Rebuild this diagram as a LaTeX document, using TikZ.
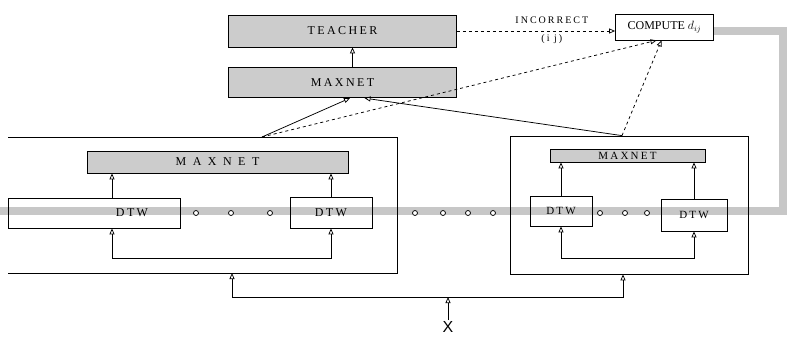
\documentclass[tikz,border=0pt]{standalone}
\usepackage{fontspec}
\setmainfont{Liberation Serif}
\setsansfont{Liberation Sans}
\newfontfamily\spaced[LetterSpace=20]{Liberation Serif}
\newfontfamily\widespaced[LetterSpace=54]{Liberation Serif}
\usetikzlibrary{positioning,arrows.meta,backgrounds}
\begin{document}
\begin{tikzpicture}[
  x=1pt, y=-1pt,
  node distance=20pt,
  line width=0.75pt,
  shaded/.style={draw, fill=black!20, inner sep=1pt, font=\spaced\fontsize{12}{14}\selectfont},
  plain/.style={draw, inner sep=1pt, font=\spaced\fontsize{12}{14}\selectfont},
  lbl/.style={inner sep=1pt, font=\spaced\fontsize{10}{12}\selectfont},
  dot/.style={circle, draw, fill=white, inner sep=0pt, minimum size=5pt},
  arrow/.style={-{Triangle[open,length=6pt,width=5pt]}},
  dasharrow/.style={arrow, dashed},
  band/.style={line width=8pt, draw=black!22}
]
\useasboundingbox (0,0) rectangle (788,337);

% top part
\node[shaded, minimum width=228pt, minimum height=32pt] (teacher) at (342.5,31) {TEACHER};
\node[shaded, minimum width=228pt, minimum height=30pt, below=20pt of teacher] (maxtop) {MAXNET};
\node[draw, inner sep=1pt, font=\fontsize{12}{14}\selectfont, minimum width=98pt, minimum height=26pt] (compute) at (664.5,27) {COMPUTE $d_{ij}$};

% left group
\draw (8,137) -| (397,273) -- (8,273);
\coordinate (lgtop) at (262,137);
\coordinate (lgbot) at (232,273);
\node[shaded, font=\widespaced\fontsize{12}{14}\selectfont, minimum width=261pt, minimum height=22pt] (lmax) at (217.5,162) {MAXNET};
\node[plain, minimum width=172pt, minimum height=30pt] (ldtwa) at (94,213) {\hspace*{76pt}DTW};
\node[plain, minimum width=82pt, minimum height=31pt] (ldtwb) at (331,212.5) {DTW};

% right group
\node[draw, minimum width=238pt, minimum height=138pt] (rgrp) at (629,205) {};
\node[shaded, font=\spaced\fontsize{11}{13}\selectfont, minimum width=155pt, minimum height=13pt] (rmax) at (627.5,155.5) {MAXNET};
\node[plain, font=\spaced\fontsize{11}{13}\selectfont, minimum width=62pt, minimum height=30pt] (rdtwa) at (561,211) {DTW};
\node[plain, font=\spaced\fontsize{11}{13}\selectfont, minimum width=66pt, minimum height=32pt] (rdtwb) at (694,215) {DTW};

% dots along the band
\foreach \x [count=\i] in {196,231,270,415,443,468,493,600,625,647}
  \node[dot] (dot\i) at (\x,213) {};

\node[font=\sffamily\fontsize{16}{18}\selectfont, inner sep=1pt] (xin) at (448,327) {X};

% band
\coordinate (bandR) at (783,211);
\coordinate (bandL) at (0,211);
\begin{scope}[on background layer]
\draw[band] ([yshift=-4pt]compute.east) -- ([yshift=-4pt]compute.east -| bandR) -- (bandR) -- (bandL);
\end{scope}

% connectors
\draw[arrow] ([xshift=10pt]maxtop.north) -- ([xshift=10pt]teacher.south);
\draw[dasharrow] (teacher.east) -- (teacher.east -| compute.west)
  node[lbl, pos=0.6, above=6pt] (incorrect) {INCORRECT}
  node[lbl, pos=0.6, below=2pt] (ij) {(i j)};
\draw[arrow] (lgtop) -- ([xshift=7.5pt]maxtop.south);
\draw[arrow] ([xshift=-7pt]rgrp.north) -- ([xshift=22pt]maxtop.south);
\draw[dasharrow] (lgtop) -- ([xshift=-8pt]compute.south);
\draw[dasharrow] ([xshift=-7pt]rgrp.north) -- ([xshift=-3pt]compute.south);

\draw[arrow] ([xshift=18pt]ldtwa.north) -- ([xshift=18pt]ldtwa.north |- lmax.south);
\draw[arrow] (ldtwb.north) -- (ldtwb.north |- lmax.south);
\coordinate (lin) at (222,258);
\draw[arrow] (lin) -| ([xshift=18pt]ldtwa.south);
\draw[arrow] (lin) -| (ldtwb.south);

\draw[arrow] (rdtwa.north) -- (rdtwa.north |- rmax.south);
\draw[arrow] (rdtwb.north) -- (rdtwb.north |- rmax.south);
\coordinate (rin) at (628,258);
\draw[arrow] (rin) -| (rdtwa.south);
\draw[arrow] (rin) -| (rdtwb.south);

\coordinate (xfork) at (448,297);
\draw[arrow] (xin) -- (xfork);
\draw[arrow] (xfork) -| (lgbot);
\draw[arrow] (xfork) -| ([xshift=-6pt]rgrp.south);
\end{tikzpicture}
\end{document}
